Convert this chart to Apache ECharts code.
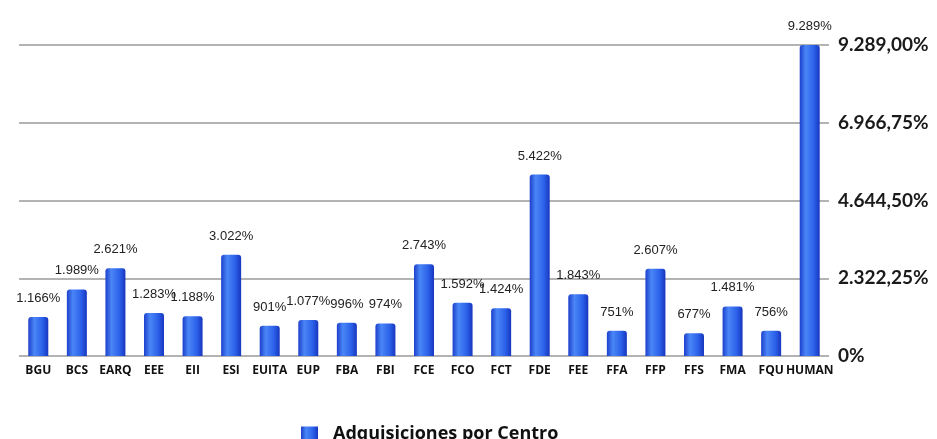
<!DOCTYPE html>
<html>
<head>
<meta charset="utf-8">
<script src="https://cdn.jsdelivr.net/npm/echarts@6/dist/echarts.min.js"></script>
<style>
html, body { margin: 0; padding: 0; background: #fff; }
#main { width: 937px; height: 439px; }
</style>
</head>
<body>
<div id="main"></div>
<script>
/*########  Adquisiciones por Centro  ########*/
var centros = ['BGU','BCS','EARQ','EEE','EII','ESI','EUITA','EUP','FBA','FBI','FCE','FCO','FCT','FDE','FEE','FFA','FFP','FFS','FMA','FQU','HUMAN'];
var valores = [1166, 1989, 2621, 1283, 1188, 3022, 901, 1077, 996, 974, 2743, 1592, 1424, 5422, 1843, 751, 2607, 677, 1481, 756, 9289];
var ejeMax = 9289;
var ejeIntervalo = 2322.25;
var serieNombre = 'Adquisiciones por Centro';

// formato español: 9.289,00
function miles(n) {
    return String(n).replace(/\B(?=(\d{3})+(?!\d))/g, '.');
}
function fmtEje(v) {
    if (v === 0) return '0%';
    var p = v.toFixed(2).split('.');
    return miles(p[0]) + ',' + p[1] + '%';
}

var dom = document.getElementById("main");
var myChart = echarts.init(dom);
var option = {
    animation: false,
    legend: {
        top: 420,
        left: 296,
        itemWidth: 17,
        itemHeight: 15,
        icon: 'rect',
        data: [serieNombre],
        textStyle: {
            fontFamily: 'Open Sans',
            fontWeight: 'bold',
            fontSize: 18,
            color: '#111',
            padding: [0, 0, 0, 10]
        }
    },
    grid: {
        left: 19,
        right: 108,
        top: 45,
        bottom: 83
    },
    xAxis: {
        type: 'category',
        data: centros,
        axisLine: { show: false },
        axisTick: { show: false },
        axisLabel: {
            interval: 0,
            margin: 9,
            fontFamily: 'Open Sans',
            fontWeight: 'bold',
            fontSize: 12,
            color: '#111'
        }
    },
    yAxis: {
        type: 'value',
        position: 'right',
        min: 0,
        max: ejeMax,
        interval: ejeIntervalo,
        axisLine: { show: false },
        axisTick: { show: false },
        splitLine: {
            lineStyle: { color: '#9a9a9a', width: 1.5 }
        },
        axisLabel: {
            margin: 9,
            formatter: fmtEje,
            fontFamily: 'Lato',
            fontWeight: 'bold',
            fontSize: 19,
            color: '#1a1a1a'
        }
    },
    series: [
        {
            name: serieNombre,
            type: 'bar',
            barWidth: 20,
            data: valores,
            itemStyle: {
                borderRadius: [3, 3, 0, 0],
                color: new echarts.graphic.LinearGradient(0, 0, 1, 0, [
                    { offset: 0, color: '#1d3fcc' },
                    { offset: 0.3, color: '#4a86f6' },
                    { offset: 0.7, color: '#2c62ea' },
                    { offset: 1, color: '#1836bf' }
                ])
            },
            label: {
                show: true,
                position: 'top',
                distance: 12,
                formatter: function (p) { return miles(p.value) + '%'; },
                fontFamily: 'Liberation Sans',
                fontSize: 13,
                color: '#222'
            }
        }
    ]
};
myChart.setOption(option);
</script>
</body>
</html>
